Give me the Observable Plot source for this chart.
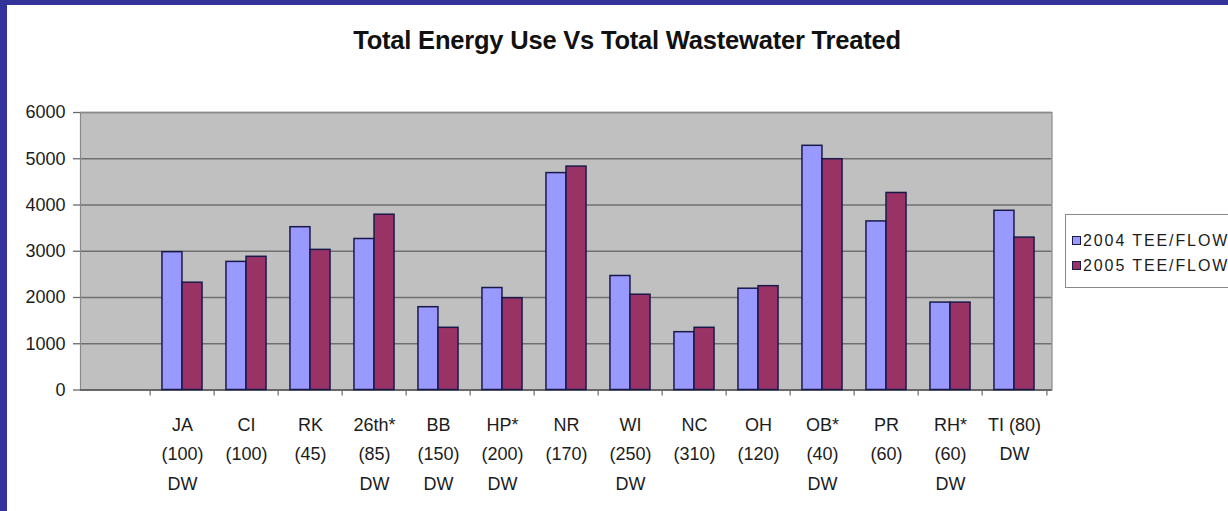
<!DOCTYPE html>
<html>
<head>
<meta charset="utf-8">
<script src="https://cdn.jsdelivr.net/npm/d3@7"></script>
<script src="https://cdn.jsdelivr.net/npm/@observablehq/plot@0.6"></script>
<style>
  html, body { margin: 0; padding: 0; background: #ffffff; }
  #wrap { position: relative; width: 1228px; height: 511px; overflow: hidden; background: #ffffff;
          font-family: Arial, "Liberation Sans", sans-serif; color: #1c1c1c; }
  .band-left { position: absolute; left: 0; top: 0; width: 7px; height: 511px; background: #333399; z-index: 5; }
  .band-top { position: absolute; left: 0; top: 0; width: 1228px; height: 5px; background: #333399; z-index: 5; }
  #title { position: absolute; left: 0; width: 1254px; top: 25px; line-height: 30px; text-align: center;
           font-weight: bold; font-size: 25.5px; letter-spacing: -0.2px; color: #111; }
  #chart { position: absolute; left: 0; top: 0; }
  #legend { position: absolute; left: 1065px; top: 214px; width: 200px; height: 72px;
            border: 1px solid #8a8a8a; background: #fff; }
  .item { position: absolute; left: 6px; font-size: 16px; letter-spacing: 1.9px; line-height: 20px; white-space: nowrap; color: #1c1c1c; }
  .sw { display: inline-block; width: 7px; height: 7px; border: 1px solid #1a1a4a; margin-right: 2px; vertical-align: 1px; }
</style>
</head>
<body>
<div id="wrap">
  <div class="band-left"></div>
  <div class="band-top"></div>
  <div id="title">Total Energy Use Vs Total Wastewater Treated</div>
  <div id="chart"></div>
  <div id="legend"></div>
</div>
<script>
// ---- data ----
const categories = ["", "JA\n(100)\nDW", "CI\n(100)", "RK\n(45)", "26th*\n(85)\nDW", "BB\n(150)\nDW",
  "HP*\n(200)\nDW", "NR\n(170)", "WI\n(250)\nDW", "NC\n(310)", "OH\n(120)", "OB*\n(40)\nDW",
  "PR\n(60)", "RH*\n(60)\nDW", "TI (80)\nDW"];
const sites = categories.slice(1);
const series = ["2004 TEE/FLOW", "2005 TEE/FLOW"];
const colors = ["#9999ff", "#993366"];
const values2004 = [2980, 2770, 3520, 3265, 1790, 2205, 4690, 2465, 1250, 2190, 5280, 3645, 1890, 3875];
const values2005 = [2320, 2880, 3030, 3790, 1345, 1985, 4830, 2060, 1345, 2245, 4990, 4260, 1890, 3295];
const yTicks = [0, 1000, 2000, 3000, 4000, 5000, 6000];

const rows = [];
sites.forEach((s, i) => {
  rows.push({site: s, series: series[0], value: values2004[i]});
  rows.push({site: s, series: series[1], value: values2005[i]});
});

// ---- layout ----
const W = 1060, H = 511, mL = 80, mR = 8.5, mT = 112, mB = 121.5;
const padIn = 0.69;
const step = (W - mL - mR) / categories.length;
const bw = step * (1 - padIn);

const plot = Plot.plot({
  width: W, height: H,
  marginLeft: mL, marginRight: mR, marginTop: mT, marginBottom: mB,
  style: {fontFamily: "Arial, 'Liberation Sans', sans-serif", fontSize: "18px", color: "#1c1c1c", background: "transparent"},
  x: {domain: categories, paddingInner: padIn, paddingOuter: padIn / 2, label: null},
  y: {domain: [0, 6000], label: null},
  color: {domain: series, range: colors},
  marks: [
    Plot.frame({fill: "#c0c0c0", stroke: "none"}),
    Plot.gridY(yTicks, {stroke: "#707070", strokeOpacity: 1, strokeWidth: 1.5}),
    Plot.frame({stroke: "#8a8a8a", strokeWidth: 1.2}),
    Plot.ruleY([0], {stroke: "#5a5a5a", strokeWidth: 1.5}),
    Plot.axisY(yTicks, {tickSize: 7, tickFormat: () => "", stroke: "#6a6a6a", strokeWidth: 1.3}),
    Plot.axisY(yTicks, {tickSize: 0, tickPadding: 15, tickFormat: d3.format("d"), fontSize: 18, fill: "#1c1c1c"}),
    Plot.axisX(sites, {tickSize: 6, tickFormat: () => "", dx: -step / 2, stroke: "#6a6a6a", strokeWidth: 1.2}),
    Plot.axisX([categories[categories.length - 1]], {tickSize: 6, tickFormat: () => "", dx: step / 2, stroke: "#6a6a6a", strokeWidth: 1.2}),
    Plot.axisX(categories, {tickSize: 0, tickPadding: 20, fontSize: 18, lineHeight: 1.64, fill: "#1c1c1c"}),
    Plot.barY(rows.filter(d => d.series === series[0]),
      {x: "site", y: "value", fill: "series", stroke: "#1a1a4a", strokeWidth: 1.5, dx: -bw / 2}),
    Plot.barY(rows.filter(d => d.series === series[1]),
      {x: "site", y: "value", fill: "series", stroke: "#1a1a4a", strokeWidth: 1.5, dx: bw / 2})
  ]
});
document.getElementById("chart").appendChild(plot);

// ---- legend ----
const legend = document.getElementById("legend");
series.forEach((s, i) => {
  const div = document.createElement("div");
  div.className = "item";
  div.style.top = (16 + i * 25) + "px";
  const sw = document.createElement("span");
  sw.className = "sw";
  sw.style.background = colors[i];
  div.appendChild(sw);
  div.appendChild(document.createTextNode(s));
  legend.appendChild(div);
});
</script>
</body>
</html>
